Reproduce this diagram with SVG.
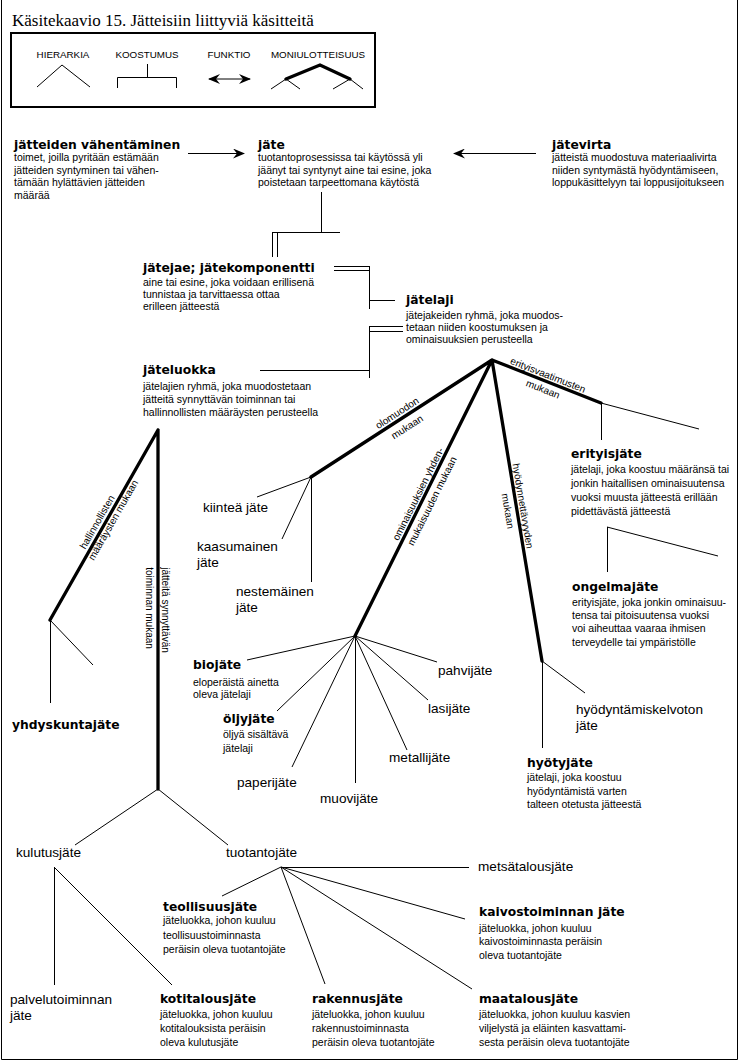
<svg xmlns="http://www.w3.org/2000/svg" width="740" height="1062" viewBox="0 0 740 1062">
<defs>
<style>
text{fill:#000}
.ti{font-family:"Liberation Serif","Times New Roman",serif;font-size:17px}
.lg{font-family:"Liberation Sans",Arial,sans-serif;font-size:9.8px}
.b{font-family:"DejaVu Sans",Verdana,sans-serif;font-weight:bold;font-size:12.3px}
.t{font-family:"Liberation Sans",Arial,sans-serif;font-size:10.5px}
.l{font-family:"Liberation Sans",Arial,sans-serif;font-size:13.6px}
.r{font-family:"Liberation Sans",Arial,sans-serif;font-size:10px}
.ln{stroke:#000;stroke-width:1;fill:none}
.tk{stroke:#000;stroke-width:3.3;fill:none;stroke-linecap:round}
</style>
<marker id="ah" viewBox="0 0 12 10" refX="11" refY="5" markerWidth="12" markerHeight="10" orient="auto-start-reverse" markerUnits="userSpaceOnUse">
<path d="M0,0 L12,5 L0,10 L4,5 Z" fill="#000"/>
</marker>
</defs>
<rect width="740" height="1062" fill="#fff"/>
<path class="ln" d="M1.5,0 V1059.5 H737.5 V0"/>
<text class="ti" x="12" y="26">Käsitekaavio 15. Jätteisiin liittyviä käsitteitä</text>

<g id="legend">
<rect x="11" y="33" width="364" height="74" fill="none" stroke="#000" stroke-width="2"/>
<text class="lg" x="63" y="58" text-anchor="middle">HIERARKIA</text>
<text class="lg" x="147" y="58" text-anchor="middle">KOOSTUMUS</text>
<text class="lg" x="229" y="58" text-anchor="middle">FUNKTIO</text>
<text class="lg" x="318" y="58" text-anchor="middle">MONIULOTTEISUUS</text>
<path class="ln" d="M37,87 L62,65 L90,87"/>
<path class="ln" d="M147.5,64 V77.5 M117.5,88 V77.5 H176.5 V88"/>
<path class="ln" d="M209,79 H250" marker-start="url(#ah)" marker-end="url(#ah)"/>
<path class="tk" d="M286,79 L320,65 L350,79"/>
<path class="ln" d="M271,89 L286,79 L300,89 M333,89 L350,79 L363,89"/>
</g>

<g id="connectors">
<path class="ln" d="M188,153.5 H244" marker-end="url(#ah)"/>
<path class="ln" d="M536,153.5 H454" marker-end="url(#ah)"/>
<path class="ln" d="M321.5,192 V232.5 M272,232.5 H340 M272.5,232 V257 M277.5,232 V257"/>
<path class="ln" d="M334,266.5 H369.5 M334,270.5 H369 M369.5,266 V309 M369,300.5 H395"/>
<path class="ln" d="M369,326.5 H403 M369,331.5 H403 M369.5,326 V378 M260,370.5 H369.5"/>
<path class="tk" d="M492,360 L311,477 M492,360 L355,636 M492,360 L542,661 M492,360 L601,403 M158,430 L50,620 M158,430 V789"/>
<path class="ln" d="M601,403 L699,429 M601.5,403 V440 M607.5,527 V572 M607,527 L718,556"/>
<path class="ln" d="M311,477 L257,497 M311,477 L282,539 M311.5,477 V582"/>
<path class="ln" d="M355,636 L247,660 M355,636 L277,711 M355,636 L292,767 M355.5,636 V783 M355,636 L407,750 M355,636 L428,700 M355,636 L437,662"/>
<path class="ln" d="M542.5,661 V748 M542,661 L585,693"/>
<path class="ln" d="M50.5,620 V703 M50,620 L93,665"/>
<path class="ln" d="M158,789 L75,845 M158,789 L228,845"/>
<path class="ln" d="M54.5,867 V985 M54,867 L172,985"/>
<path class="ln" d="M281,867.5 H469 M281,867 L222,896 M281,867 L465,919 M281,867 L325,984 M281,867 L472,989"/>
<text class="r" transform="translate(397,413) rotate(-32.9)" text-anchor="middle" y="3.5">olomuodon</text>
<text class="r" transform="translate(407,427) rotate(-32.9)" text-anchor="middle" y="3.5">mukaan</text>
<text class="r" transform="translate(548,375) rotate(21.5)" text-anchor="middle" y="3.5">erityisvaatimusten</text>
<text class="r" transform="translate(543,389) rotate(21.5)" text-anchor="middle" y="3.5">mukaan</text>
<text class="r" transform="translate(418,494) rotate(-63.5)" text-anchor="middle" y="3.5">ominaisuuksien yhden-</text>
<text class="r" transform="translate(432,501) rotate(-63.5)" text-anchor="middle" y="3.5">mukaisuuden mukaan</text>
<text class="r" transform="translate(523,506) rotate(80.5)" text-anchor="middle" y="3.5">hyödynnettävyyden</text>
<text class="r" transform="translate(508,511) rotate(80.5)" text-anchor="middle" y="3.5">mukaan</text>
<text class="r" transform="translate(97,522) rotate(-60.4)" text-anchor="middle" y="3.5">hallinnollisten</text>
<text class="r" transform="translate(113,520) rotate(-60.4)" text-anchor="middle" y="3.5">määräysten mukaan</text>
<text class="r" transform="translate(165,610) rotate(90)" text-anchor="middle" y="3.5">jätteitä synnyttävän</text>
<text class="r" transform="translate(149,608) rotate(90)" text-anchor="middle" y="3.5">toiminnan mukaan</text>
</g>

<g id="n-vahentaminen">
<text class="b" x="14" y="149">jätteiden vähentäminen</text>
<text class="t" x="14" y="161">toimet, joilla pyritään estämään</text>
<text class="t" x="14" y="174">jätteiden syntyminen tai vähen-</text>
<text class="t" x="14" y="186">tämään hylättävien jätteiden</text>
<text class="t" x="14" y="199">määrää</text>
</g>
<g id="n-jate">
<text class="b" x="258" y="149">jäte</text>
<text class="t" x="258" y="161">tuotantoprosessissa tai käytössä yli</text>
<text class="t" x="258" y="174">jäänyt tai syntynyt aine tai esine, joka</text>
<text class="t" x="258" y="186">poistetaan tarpeettomana käytöstä</text>
</g>
<g id="n-jatevirta">
<text class="b" x="552" y="149">jätevirta</text>
<text class="t" x="552" y="161">jätteistä muodostuva materiaalivirta</text>
<text class="t" x="552" y="174">niiden syntymästä hyödyntämiseen,</text>
<text class="t" x="552" y="186">loppukäsittelyyn tai loppusijoitukseen</text>
</g>
<g id="n-jatejae">
<text class="b" x="143" y="272">jätejae; jätekomponentti</text>
<text class="t" x="143" y="286">aine tai esine, joka voidaan erillisenä</text>
<text class="t" x="143" y="298">tunnistaa ja tarvittaessa ottaa</text>
<text class="t" x="143" y="310">erilleen jätteestä</text>
</g>
<g id="n-jatelaji">
<text class="b" x="406" y="304">jätelaji</text>
<text class="t" x="406" y="319">jätejakeiden ryhmä, joka muodos-</text>
<text class="t" x="406" y="331">tetaan niiden koostumuksen ja</text>
<text class="t" x="406" y="343">ominaisuuksien  perusteella</text>
</g>
<g id="n-jateluokka">
<text class="b" x="143" y="374">jäteluokka</text>
<text class="t" x="143" y="390">jätelajien ryhmä, joka muodostetaan</text>
<text class="t" x="143" y="403">jätteitä synnyttävän toiminnan tai</text>
<text class="t" x="143" y="416">hallinnollisten määräysten perusteella</text>
</g>
<g id="n-erityisjate">
<text class="b" x="571" y="458">erityisjäte</text>
<text class="t" x="571" y="473">jätelaji, joka koostuu määränsä tai</text>
<text class="t" x="571" y="487">jonkin haitallisen ominaisuutensa</text>
<text class="t" x="571" y="501">vuoksi  muusta jätteestä erillään</text>
<text class="t" x="571" y="515">pidettävästä jätteestä</text>
</g>
<g id="n-ongelmajate">
<text class="b" x="572" y="591">ongelmajäte</text>
<text class="t" x="572" y="606">erityisjäte, joka jonkin ominaisuu-</text>
<text class="t" x="572" y="619">tensa tai pitoisuutensa vuoksi</text>
<text class="t" x="572" y="632">voi aiheuttaa vaaraa ihmisen</text>
<text class="t" x="572" y="646">terveydelle tai ympäristölle</text>
</g>
<g id="n-kiintea"><text class="l" x="203" y="512">kiinteä jäte</text></g>
<g id="n-kaasumainen"><text class="l" x="197" y="551">kaasumainen</text><text class="l" x="197" y="567">jäte</text></g>
<g id="n-nestemainen"><text class="l" x="236" y="596">nestemäinen</text><text class="l" x="236" y="612">jäte</text></g>
<g id="n-biojate">
<text class="b" x="193" y="669">biojäte</text>
<text class="t" x="193" y="686">eloperäistä ainetta</text>
<text class="t" x="193" y="698">oleva  jätelaji</text>
</g>
<g id="n-oljyjate">
<text class="b" x="223" y="723">öljyjäte</text>
<text class="t" x="223" y="738">öljyä sisältävä</text>
<text class="t" x="223" y="752">jätelaji</text>
</g>
<g id="n-paperijate"><text class="l" x="237" y="787">paperijäte</text></g>
<g id="n-muovijate"><text class="l" x="320" y="803">muovijäte</text></g>
<g id="n-metallijate"><text class="l" x="389" y="762">metallijäte</text></g>
<g id="n-lasijate"><text class="l" x="428" y="713">lasijäte</text></g>
<g id="n-pahvijate"><text class="l" x="438" y="675">pahvijäte</text></g>
<g id="n-hyodyntamiskelvoton"><text class="l" x="576" y="714">hyödyntämiskelvoton</text><text class="l" x="576" y="730">jäte</text></g>
<g id="n-hyotyjate">
<text class="b" x="527" y="767">hyötyjäte</text>
<text class="t" x="527" y="781">jätelaji, joka koostuu</text>
<text class="t" x="527" y="795">hyödyntämistä varten</text>
<text class="t" x="527" y="808">talteen otetusta jätteestä</text>
</g>
<g id="n-yhdyskuntajate"><text class="b" x="12" y="729">yhdyskuntajäte</text></g>
<g id="n-kulutusjate"><text class="l" x="16" y="857">kulutusjäte</text></g>
<g id="n-tuotantojate"><text class="l" x="226" y="857">tuotantojäte</text></g>
<g id="n-metsatalousjate"><text class="l" x="478" y="871">metsätalousjäte</text></g>
<g id="n-teollisuusjate">
<text class="b" x="163" y="911">teollisuusjäte</text>
<text class="t" x="163" y="924">jäteluokka, johon kuuluu</text>
<text class="t" x="163" y="939">teollisuustoiminnasta</text>
<text class="t" x="163" y="953">peräisin oleva tuotantojäte</text>
</g>
<g id="n-kaivostoiminnan">
<text class="b" x="479" y="916">kaivostoiminnan jäte</text>
<text class="t" x="479" y="932">jäteluokka, johon kuuluu</text>
<text class="t" x="479" y="945">kaivostoiminnasta peräisin</text>
<text class="t" x="479" y="959">oleva tuotantojäte</text>
</g>
<g id="n-palvelutoiminnan"><text class="l" x="10" y="1004">palvelutoiminnan</text><text class="l" x="10" y="1020">jäte</text></g>
<g id="n-kotitalousjate">
<text class="b" x="160" y="1003">kotitalousjäte</text>
<text class="t" x="160" y="1018">jäteluokka, johon kuuluu</text>
<text class="t" x="160" y="1032">kotitalouksista  peräisin</text>
<text class="t" x="160" y="1046">oleva kulutusjäte</text>
</g>
<g id="n-rakennusjate">
<text class="b" x="312" y="1003">rakennusjäte</text>
<text class="t" x="312" y="1018">jäteluokka, johon kuuluu</text>
<text class="t" x="312" y="1032">rakennustoiminnasta</text>
<text class="t" x="312" y="1046">peräisin oleva tuotantojäte</text>
</g>
<g id="n-maatalousjate">
<text class="b" x="479" y="1003">maatalousjäte</text>
<text class="t" x="479" y="1018">jäteluokka, johon kuuluu kasvien</text>
<text class="t" x="479" y="1032">viljelystä ja eläinten kasvattami-</text>
<text class="t" x="479" y="1046">sesta peräisin oleva tuotantojäte</text>
</g>
</svg>
